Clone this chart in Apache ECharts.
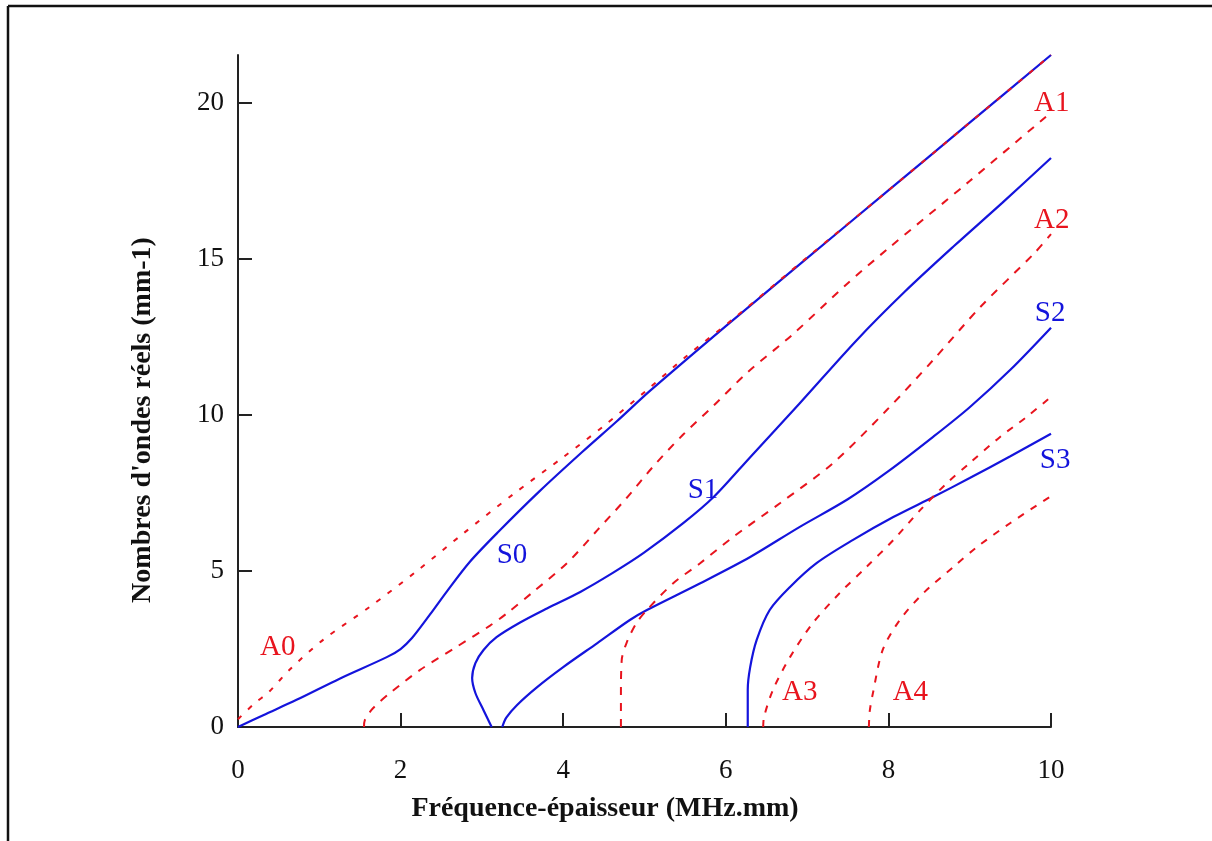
<!DOCTYPE html>
<html>
<head>
<meta charset="utf-8">
<script src="https://cdn.jsdelivr.net/npm/echarts@6/dist/echarts.min.js"></script>
<style>
html,body{margin:0;padding:0;background:#fff;}
#main{width:1212px;height:841px;}
</style>
</head>
<body>
<div id="main"></div>
<script>
// courbes de dispersion [fd, k]
var S0 = [[0,0],[0.31,0.38],[0.72,0.87],[1.25,1.55],[1.83,2.24],[2.0,2.5],[2.14,2.85],[2.36,3.6],[2.57,4.35],[2.85,5.29],[3.2,6.25],[3.71,7.56],[4.24,8.83],[4.66,9.8],[5.07,10.78],[6,12.85],[7,15.03],[8,17.2],[9,19.37],[10,21.54]];
var S1 = [[3.12,0],[3.02,0.54],[2.92,1.09],[2.88,1.57],[2.92,2.05],[3.02,2.47],[3.18,2.88],[3.47,3.35],[3.8,3.8],[4.21,4.33],[4.61,4.94],[4.99,5.58],[5.48,6.54],[5.85,7.37],[6.3,8.65],[6.91,10.38],[7.61,12.4],[8.2,13.95],[8.8,15.4],[9.4,16.8],[10,18.24]];
var S2 = [[3.25,0],[3.3,0.3],[3.43,0.7],[3.68,1.28],[4.0,1.92],[4.42,2.69],[4.82,3.43],[5.03,3.75],[5.68,4.6],[6.3,5.45],[6.9,6.4],[7.5,7.3],[8.0,8.2],[8.55,9.3],[9.0,10.25],[9.5,11.45],[10,12.8]];
var S3 = [[6.27,0],[6.27,1.19],[6.3,1.92],[6.38,2.79],[6.54,3.75],[6.79,4.49],[7.12,5.26],[7.56,5.99],[8.06,6.73],[8.55,7.37],[9.0,7.98],[9.5,8.68],[10,9.4]];
var A0 = [[0,0.25],[0.2,0.75],[0.37,1.1],[0.64,1.85],[1.05,2.8],[1.62,3.85],[2.2,5.0],[2.77,6.2],[3.38,7.45],[4.0,8.65],[4.5,9.65],[5.03,10.8],[5.5,11.85],[6.1,13.1],[7,15.05],[8,17.2],[9,19.37],[10,21.54]];
var A1 = [[1.55,0],[1.56,0.22],[1.66,0.6],[1.87,1.09],[2.24,1.83],[2.69,2.57],[3.1,3.25],[3.31,3.65],[3.63,4.33],[4.05,5.26],[4.42,6.31],[4.78,7.34],[5.1,8.33],[5.47,9.36],[5.85,10.3],[6.26,11.35],[6.83,12.6],[7.49,14.2],[7.98,15.3],[9,17.5],[10,19.7]];
var A2 = [[4.71,0],[4.71,1.0],[4.72,2.15],[4.78,2.7],[4.9,3.33],[5.03,3.75],[5.35,4.6],[5.68,5.24],[6.09,6.09],[6.67,7.18],[7.32,8.46],[7.98,10.16],[8.55,11.76],[9.13,13.46],[9.8,15.2],[10,15.8]];
var A3 = [[6.46,0],[6.47,0.32],[6.58,1.19],[6.79,2.24],[7.07,3.33],[7.4,4.29],[7.73,5.13],[8.06,5.99],[8.39,6.95],[8.72,7.82],[9.0,8.46],[9.37,9.29],[9.7,9.94],[10,10.58]];
var A4 = [[7.76,0],[7.77,0.5],[7.81,1.09],[7.93,2.47],[8.14,3.43],[8.43,4.29],[8.8,5.13],[9.09,5.77],[9.5,6.54],[10,7.4]];

// noms des modes et position des etiquettes
var labelNames = ['A0','S0','S1','A1','A2','S2','S3','A3','A4'];
var labelPos = [[0.49,2.56],[3.37,5.51],[5.72,7.6],[10.01,20.0],[10.01,16.25],[9.99,13.27],[10.05,8.56],[6.91,1.12],[8.27,1.12]];

var yTicks = [0,5,10,15,20];

var blue = '#1414dc';
var red = '#e8141e';
var serif = '"Liberation Serif","DejaVu Serif",serif';

function sym(name, data){
	return {
		name : name,
		type : 'line',
		data : data,
		smooth : 0.3,
		showSymbol : false,
		z : 3,
		lineStyle : { color : blue, width : 2.2, type : 'solid' }
	};
}
function anti(name, data, dash){
	return {
		name : name,
		type : 'line',
		data : data,
		smooth : 0.3,
		showSymbol : false,
		z : 4,
		lineStyle : { color : red, width : 2, type : dash }
	};
}

var labelData = [];
for(var i = 0; i < labelNames.length; i++){
	labelData.push({
		name : labelNames[i],
		value : labelPos[i],
		label : { color : labelNames[i].charAt(0) == 'A' ? red : blue }
	});
}

var chart = echarts.init(document.getElementById('main'));
var option = {
	backgroundColor : '#fff',
	animation : false,
	grid : {
		left : 238,
		right : 161,
		top : 55,
		bottom : 114,
		containLabel : false
	},
	xAxis : {
		type : 'value',
		min : 0,
		max : 10,
		interval : 2,
		splitLine : { show : false },
		axisLine : { lineStyle : { color : '#222', width : 2 } },
		axisTick : { inside : true, length : 14, lineStyle : { color : '#222', width : 2 } },
		axisLabel : { margin : 30, color : '#111', fontSize : 27, fontFamily : serif }
	},
	yAxis : {
		type : 'value',
		min : 0,
		max : 21.54,
		interval : 5,
		splitLine : { show : false },
		axisLine : { show : true, lineStyle : { color : '#222', width : 2 } },
		axisTick : { inside : true, length : 14, customValues : yTicks, lineStyle : { color : '#222', width : 2 } },
		axisLabel : { margin : 14, customValues : yTicks, color : '#111', fontSize : 27, fontFamily : serif }
	},
	graphic : [
		// cadre
		{ type : 'line', shape : { x1 : 8, y1 : 6, x2 : 8, y2 : 841 }, style : { stroke : '#111', lineWidth : 2.5 } },
		{ type : 'line', shape : { x1 : 8, y1 : 6, x2 : 1212, y2 : 6 }, style : { stroke : '#111', lineWidth : 2.5 } },
		// titres des axes
		{ type : 'text', x : 605, y : 809, style : { text : 'Fréquence-épaisseur (MHz.mm)', font : 'bold 28px ' + serif, fill : '#111', align : 'center', verticalAlign : 'middle' } },
		{ type : 'text', x : 143, y : 420, rotation : Math.PI / 2, style : { text : "Nombres d'ondes réels (mm-1)", font : 'bold 28px ' + serif, fill : '#111', align : 'center', verticalAlign : 'middle' } }
	],
	series : [
		anti('A0', A0, [5, 9]),
		anti('A1', A1, [8, 8]),
		anti('A2', A2, [8, 8]),
		anti('A3', A3, [7, 8]),
		anti('A4', A4, [7, 8]),
		sym('S0', S0),
		sym('S1', S1),
		sym('S2', S2),
		sym('S3', S3),
		{
			name : 'labels',
			type : 'scatter',
			symbolSize : 0,
			clip : false,
			silent : true,
			z : 5,
			data : labelData,
			label : {
				show : true,
				position : 'inside',
				formatter : '{b}',
				fontSize : 29,
				fontFamily : serif,
				textBorderWidth : 0,
				opacity : 1
			}
		}
	]
};
chart.setOption(option);
</script>
</body>
</html>
